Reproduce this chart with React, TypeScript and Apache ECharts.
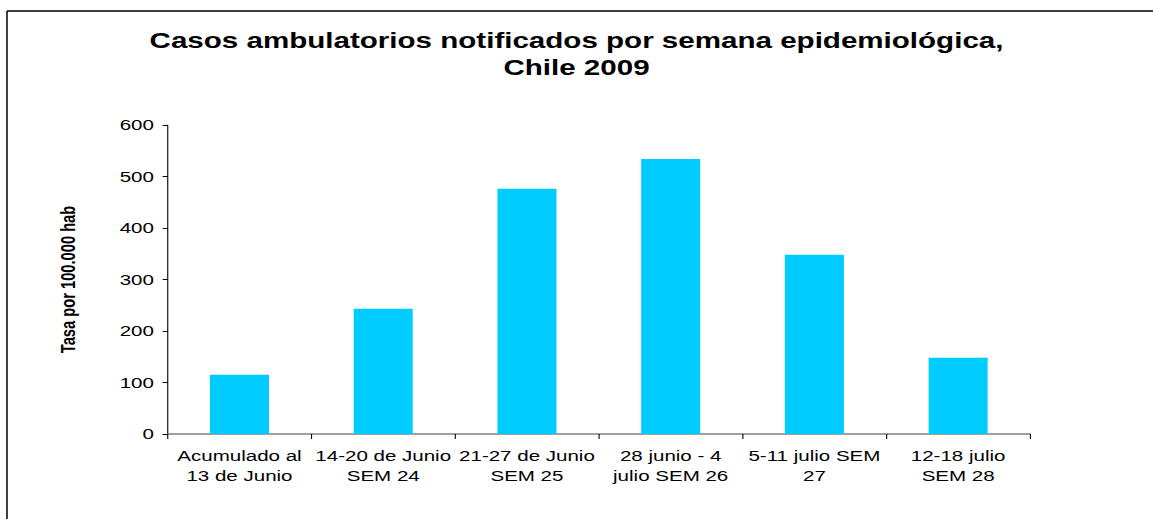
import React, { useEffect, useRef } from "react";
import * as echarts from "echarts";

const categories = [
  "Acumulado al\n13 de Junio",
  "14-20 de Junio\nSEM 24",
  "21-27 de Junio\nSEM 25",
  "28 junio - 4\njulio SEM 26",
  "5-11 julio SEM\n27",
  "12-18 julio\nSEM 28",
];
const values = [115, 243, 476, 534, 348, 148];
const titleText = "Casos ambulatorios notificados por semana epidemiológica,\nChile 2009";
const yAxisName = "Tasa por 100.000 hab";

// the reference is horizontally stretched; draw at a narrower width and stretch
const W = 842;
const S = 1153 / W;

export default function App() {
  const ref = useRef<HTMLDivElement>(null);
  useEffect(() => {
    if (!ref.current) return;
    const chart = echarts.init(ref.current, null, { renderer: "svg" });
    chart.setOption({
      animation: false,
      backgroundColor: "#ffffff",
      title: {
        text: titleText,
        left: "center",
        top: 22,
        textStyle: {
          fontFamily: "Liberation Sans",
          fontWeight: "bold",
          fontSize: 21.6,
          lineHeight: 27,
          color: "#000",
        },
      },
      graphic: [
        { type: "line", shape: { x1: 5.1, y1: 11, x2: W, y2: 11 }, style: { stroke: "#000", lineWidth: 1.5 } },
        { type: "line", shape: { x1: 5.1, y1: 11, x2: 5.1, y2: 519 }, style: { stroke: "#000", lineWidth: 1.1 } },
      ],
      grid: { left: 167.6 / S, right: 123 / S, top: 125, bottom: 85 },
      xAxis: {
        type: "category",
        data: categories,
        axisLine: { lineStyle: { color: "#808080", width: 1.5 } },
        axisTick: { show: true, length: 5, lineStyle: { color: "#000", width: 0.8 } },
        axisLabel: {
          fontFamily: "Liberation Sans",
          fontSize: 15,
          color: "#000",
          lineHeight: 20,
          margin: 12,
          interval: 0,
        },
      },
      yAxis: {
        type: "value",
        min: 0,
        max: 600,
        interval: 100,
        name: yAxisName,
        nameLocation: "middle",
        nameGap: 65,
        nameRotate: 90,
        nameTextStyle: {
          fontFamily: "Liberation Sans",
          fontWeight: "bold",
          fontSize: 14.7,
          color: "#000",
        },
        splitLine: { show: false },
        axisLine: { show: true, lineStyle: { color: "#000", width: 0.8 } },
        axisTick: { show: true, length: 3.6, lineStyle: { color: "#000" } },
        axisLabel: {
          fontFamily: "Liberation Sans",
          fontSize: 15,
          color: "#000",
          margin: 10,
        },
      },
      series: [
        {
          type: "bar",
          data: values,
          barWidth: 59 / S,
          itemStyle: { color: "#00ccff" },
        },
      ],
    });
    return () => chart.dispose();
  }, []);
  return (
    <div
      ref={ref}
      style={{
        position: "fixed",
        left: 0,
        top: 0,
        width: W,
        height: 519,
        transform: `scaleX(${S})`,
        transformOrigin: "0 0",
      }}
    />
  );
}
